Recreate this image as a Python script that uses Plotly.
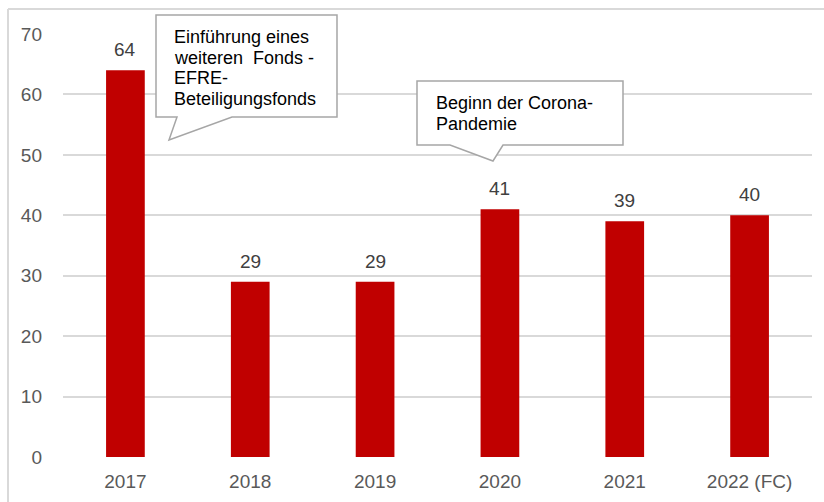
import plotly.graph_objects as go

categories = ["2017", "2018", "2019", "2020", "2021", "2022 (FC)"]
values = [64, 29, 29, 41, 39, 40]
y_ticks = [0, 10, 20, 30, 40, 50, 60, 70]
callout1_lines = ["Einführung eines", "weiteren  Fonds -", "EFRE-", "Beteiligungsfonds"]
callout2_lines = ["Beginn der Corona-", "Pandemie"]

W, H = 824, 502
L, R, T, B = 63, 12, 34, 45
FONT = "Liberation Sans, Arial"

def px(x, y):
    return (x - L) / (W - L - R), (H - B - y) / (H - T - B)

def path(points):
    pts = [px(x, y) for x, y in points]
    return "M " + " L ".join(f"{a:.5f},{b:.5f}" for a, b in pts) + " Z"

fig = go.Figure(go.Bar(
    x=categories, y=values,
    marker=dict(color="#C00000", line=dict(width=0)),
    hoverinfo="x+y",
))

callout1 = [(156, 15), (337, 15), (337, 117), (232, 117), (169, 140), (177, 117), (156, 117)]
callout2 = [(417, 81), (623, 81), (623, 145), (503, 145), (493, 161), (450, 145), (417, 145)]

shapes = [
    dict(type="line", xref="paper", yref="paper", x0=px(8, 0)[0], x1=px(8, 0)[0],
         y0=px(0, 9)[1], y1=px(0, 510)[1], line=dict(color="#D9D9D9", width=2)),
    dict(type="line", xref="paper", yref="paper", x0=px(8, 0)[0], x1=px(830, 0)[0],
         y0=px(0, 9)[1], y1=px(0, 9)[1], line=dict(color="#D9D9D9", width=2)),
    dict(type="path", xref="paper", yref="paper", path=path(callout1),
         fillcolor="white", line=dict(color="#A6A6A6", width=1.5)),
    dict(type="path", xref="paper", yref="paper", path=path(callout2),
         fillcolor="white", line=dict(color="#A6A6A6", width=1.5)),
]

annotations = []
for i, (c, v) in enumerate(zip(categories, values)):
    annotations.append(dict(x=i, y=v, xref="x", yref="y", text=str(v), showarrow=False,
                            yanchor="bottom", yshift=8,
                            font=dict(family=FONT, size=19, color="#404040")))
for i, line in enumerate(callout1_lines):
    x, y = px(172, 37 + i * 20.5)
    annotations.append(dict(xref="paper", yref="paper", x=x, y=y, xanchor="left",
                            yanchor="middle", showarrow=False, text=line,
                            font=dict(family=FONT, size=18, color="#000000")))
for i, line in enumerate(callout2_lines):
    x, y = px(434, 103 + i * 20.5)
    annotations.append(dict(xref="paper", yref="paper", x=x, y=y, xanchor="left",
                            yanchor="middle", showarrow=False, text=line,
                            font=dict(family=FONT, size=18, color="#000000")))

fig.update_layout(
    width=W, height=H,
    margin=dict(l=L, r=R, t=T, b=B),
    paper_bgcolor="white", plot_bgcolor="white",
    bargap=0.69, showlegend=False,
    shapes=shapes, annotations=annotations,
    font=dict(family=FONT),
    xaxis=dict(type="category", categoryorder="array", categoryarray=categories,
               showline=False, ticks="", tickfont=dict(size=19, color="#595959"),
               showgrid=False, ticklabelstandoff=11, automargin=False),
    yaxis=dict(range=[0, 70], tickvals=y_ticks, showgrid=True, gridcolor="#D9D9D9",
               gridwidth=1.5, zeroline=False, showline=False, ticks="",
               tickfont=dict(size=19, color="#595959"), ticklabelstandoff=20,
               automargin=False),
)

fig.write_html("out.html", config={"displayModeBar": False},
               post_script="document.body.style.margin='0';document.body.style.overflow='hidden';")
